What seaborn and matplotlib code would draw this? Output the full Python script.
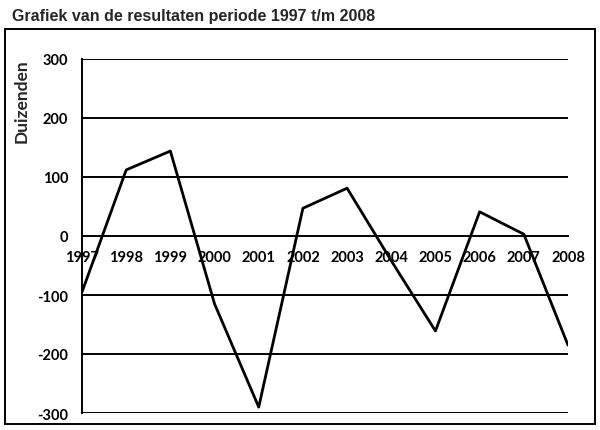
import matplotlib
matplotlib.use("Agg")
import matplotlib.pyplot as plt
import seaborn as sns
import pandas as pd
from matplotlib.patches import Rectangle

years = [1997, 1998, 1999, 2000, 2001, 2002, 2003, 2004, 2005, 2006, 2007, 2008]
values = [-95, 112, 144, -115, -290, 47, 81, -42, -161, 41, 3, -185]
y_ticks = [-300, -200, -100, 0, 100, 200, 300]
title = "Grafiek van de resultaten periode 1997 t/m 2008"
y_label = "Duizenden"

df = pd.DataFrame({"jaar": years, "resultaat": values})

sns.set_theme(style="white")
plt.rcParams["font.family"] = ["Lato", "DejaVu Sans"]

W, H = 600, 431
fig = plt.figure(figsize=(6.0, 4.31), dpi=100)
x0, x1, ytop, ybot = 82, 568, 60, 414
ax = fig.add_axes([x0 / W, (H - ybot) / H, (x1 - x0) / W, (ybot - ytop) / H])

# outer frame
fig.patches.append(Rectangle((5 / W, (H - 425) / H), 590 / W, (425 - 30) / H,
                             transform=fig.transFigure, fill=False,
                             edgecolor="black", linewidth=1.4))

for t in y_ticks:
    if t != 0:
        ax.axhline(t, color="black", linewidth=1.4, zorder=1)

sns.lineplot(data=df, x="jaar", y="resultaat", ax=ax, color="black",
             linewidth=2.0, zorder=3)

for s in ["top", "right"]:
    ax.spines[s].set_visible(False)
ax.spines["left"].set_color("black")
ax.spines["left"].set_linewidth(1.4)
ax.spines["bottom"].set_position(("data", 0))
ax.spines["bottom"].set_color("black")
ax.spines["bottom"].set_linewidth(1.4)

ax.set_xlim(years[0], years[-1])
ax.set_ylim(-300, 300)
ax.set_yticks(y_ticks)
ax.set_yticklabels([str(t) for t in y_ticks], fontweight="bold", fontsize=10.5)
ax.set_xticks(years)
ax.set_xticklabels([str(y) for y in years], fontweight="bold", fontsize=10.5)
ax.set_xlabel("")
ax.set_ylabel("")
ax.tick_params(axis="y", length=0, pad=10, labelcolor="black")
ax.tick_params(axis="x", direction="inout", length=8, width=1.2, color="black",
               pad=6, labelcolor="black")

fig.text(12 / W, 1 - 16 / H, title, ha="left", va="center", fontsize=11.5,
         fontweight="bold", family=["Liberation Sans", "DejaVu Sans"])
fig.text(22 / W, 1 - 101 / H, y_label, ha="center", va="center", rotation=90,
         fontsize=12.5, fontweight="bold")

fig.savefig("out.png", dpi=100, facecolor="white")
